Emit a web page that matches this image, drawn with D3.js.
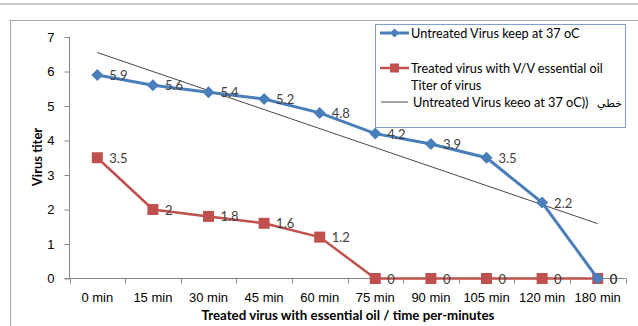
<!DOCTYPE html>
<html>
<head>
<meta charset="utf-8">
<script src="https://cdn.jsdelivr.net/npm/d3@7"></script>
<style>
  body { margin: 0; background: #fff; }
  svg { display: block; font-family: Lato, "Liberation Sans", sans-serif; }
</style>
</head>
<body>
<div class="chart"></div>
<script>
// size of the page
const w = 638;
const h = 326;

// data
const categories = ["0 min", "15 min", "30 min", "45 min", "60 min", "75 min", "90 min", "105 min", "120 min", "180 min"];
const untreated = [5.9, 5.6, 5.4, 5.2, 4.8, 4.2, 3.9, 3.5, 2.2, 0];
const treated = [3.5, 2, 1.8, 1.6, 1.2, 0, 0, 0, 0, 0];
const trendEnds = [6.55, 1.59]; // linear trend line, first and last category
const yTicks = [0, 1, 2, 3, 4, 5, 6, 7];

const legendNames = ["Untreated Virus keep at 37 oC", "Treated virus with V/V essential  oil", "Titer of virus", "Untreated Virus keeo at 37 oC))"];

const blue = "#4a7ebb";
const red = "#c0504d";
const labelColor = "#404040";

const svg = d3.select(".chart").append("svg")
  .attr("width", w)
  .attr("height", h);

// top rule and chart frame
svg.append("line")
  .attr("x1", 0).attr("x2", w)
  .attr("y1", 4).attr("y2", 4)
  .attr("stroke", "#c8c8c8").attr("stroke-width", 2);

svg.append("rect")
  .attr("x", 10.5).attr("y", 20.5)
  .attr("width", w + 20).attr("height", h)
  .attr("fill", "none")
  .attr("stroke", "#a6a6a6");

// scales
const xScale = d3.scaleBand()
  .domain(categories)
  .range([69.5, 625.5]);

const yScale = d3.scaleLinear()
  .domain([0, 7])
  .range([278.5, 37]);

const xc = d => xScale(d) + xScale.bandwidth() / 2;

// axes
const yAxis = d3.axisLeft(yScale)
  .tickValues(yTicks)
  .tickSize(5)
  .tickPadding(10)
  .tickFormat(d3.format("d"));

const gy = svg.append("g")
  .attr("transform", "translate(69.5,0)")
  .call(yAxis);

gy.select(".domain").attr("stroke", "#868686").attr("d", "M0," + yScale(7) + "V" + yScale(0));
gy.selectAll(".tick line").attr("stroke", "#868686");
gy.selectAll(".tick text").attr("font-size", 13).attr("fill", "#000");

const xAxis = d3.axisBottom(xScale)
  .tickSize(0)
  .tickPadding(14);

const gx = svg.append("g")
  .attr("transform", "translate(0,278.5)")
  .call(xAxis);

gx.select(".domain").attr("stroke", "#868686").attr("d", "M" + (69.5 - 5) + ",0H625.5");
gx.selectAll(".tick text").attr("font-size", 13).attr("fill", "#000");

// tick marks between categories
const edges = categories.map(c => xScale(c)).concat([xScale.range()[1]]);
gx.selectAll(".edge")
  .data(edges)
  .enter()
  .append("line")
  .attr("class", "edge")
  .attr("x1", d => Math.round(d) + 0.5).attr("x2", d => Math.round(d) + 0.5)
  .attr("y1", 0).attr("y2", 5)
  .attr("stroke", "#868686");

// axis titles
svg.append("text")
  .attr("transform", "translate(42,157) rotate(-90)")
  .attr("text-anchor", "middle")
  .attr("font-size", 13)
  .attr("font-weight", "bold")
  .text("Virus titer");

svg.append("text")
  .attr("x", 348).attr("y", 320)
  .attr("text-anchor", "middle")
  .attr("font-size", 13.3)
  .attr("font-weight", "bold")
  .text("Treated virus with essential oil / time per-minutes");

// trend line
const last = categories.length - 1;
svg.append("line")
  .attr("x1", xc(categories[0])).attr("y1", yScale(trendEnds[0]))
  .attr("x2", xc(categories[last])).attr("y2", yScale(trendEnds[1]))
  .attr("stroke", "#333")
  .attr("stroke-width", 0.9);

const line = d3.line()
  .x((d, i) => xc(categories[i]))
  .y(d => yScale(d));

// treated series (red squares)
svg.append("path")
  .datum(treated)
  .attr("d", line)
  .attr("fill", "none")
  .attr("stroke", red)
  .attr("stroke-width", 2.5);

svg.selectAll(".sq")
  .data(treated)
  .enter()
  .append("rect")
  .attr("class", "sq")
  .attr("x", (d, i) => xc(categories[i]) - 5.5)
  .attr("y", d => yScale(d) - 5.5)
  .attr("width", 11).attr("height", 11)
  .attr("fill", red);

// untreated series (blue diamonds)
svg.append("path")
  .datum(untreated)
  .attr("d", line)
  .attr("fill", "none")
  .attr("stroke", blue)
  .attr("stroke-width", 3);

const diamond = "M0,-6L6,0L0,6L-6,0Z";
svg.selectAll(".dm")
  .data(untreated)
  .enter()
  .append("path")
  .attr("class", "dm")
  .attr("d", diamond)
  .attr("transform", (d, i) => "translate(" + xc(categories[i]) + "," + yScale(d) + ")")
  .attr("fill", blue);

// data labels
function addLabels(data, cls) {
  svg.selectAll("." + cls)
    .data(data)
    .enter()
    .append("text")
    .attr("class", cls)
    .attr("x", (d, i) => xc(categories[i]) + 12)
    .attr("y", d => yScale(d) + 5)
    .attr("font-size", 13)
    .attr("fill", labelColor)
    .text(d => d);
}
addLabels(untreated, "lu");
addLabels(treated, "lt");

// legend
const lg = svg.append("g");
lg.append("rect")
  .attr("x", 375.5).attr("y", 24.5)
  .attr("width", 250).attr("height", 103)
  .attr("fill", "#fff")
  .attr("stroke", "#7f9fd0");

lg.append("line").attr("x1", 380).attr("x2", 409).attr("y1", 33).attr("y2", 33)
  .attr("stroke", blue).attr("stroke-width", 3);
lg.append("path").attr("d", "M0,-4.5L4.5,0L0,4.5L-4.5,0Z")
  .attr("transform", "translate(394.5,33)").attr("fill", blue);

lg.append("line").attr("x1", 380).attr("x2", 409).attr("y1", 68).attr("y2", 68)
  .attr("stroke", red).attr("stroke-width", 2.5);
lg.append("rect").attr("x", 390).attr("y", 63.5).attr("width", 9).attr("height", 9).attr("fill", red);

lg.append("line").attr("x1", 381).attr("x2", 408).attr("y1", 102).attr("y2", 102)
  .attr("stroke", "#333").attr("stroke-width", 0.9);

const legendY = [38, 73, 90, 107];
const legendX = [411, 411, 411, 413];
lg.selectAll(".lt")
  .data(legendNames)
  .enter()
  .append("text")
  .attr("x", (d, i) => legendX[i])
  .attr("y", (d, i) => legendY[i])
  .attr("font-size", 12.7)
  .text(d => d);

lg.append("text")
  .attr("x", 622).attr("y", 107)
  .attr("text-anchor", "end")
  .attr("font-size", 11)
  .attr("font-family", "'DejaVu Sans', sans-serif")
  .text("خطي");
</script>
</body>
</html>
